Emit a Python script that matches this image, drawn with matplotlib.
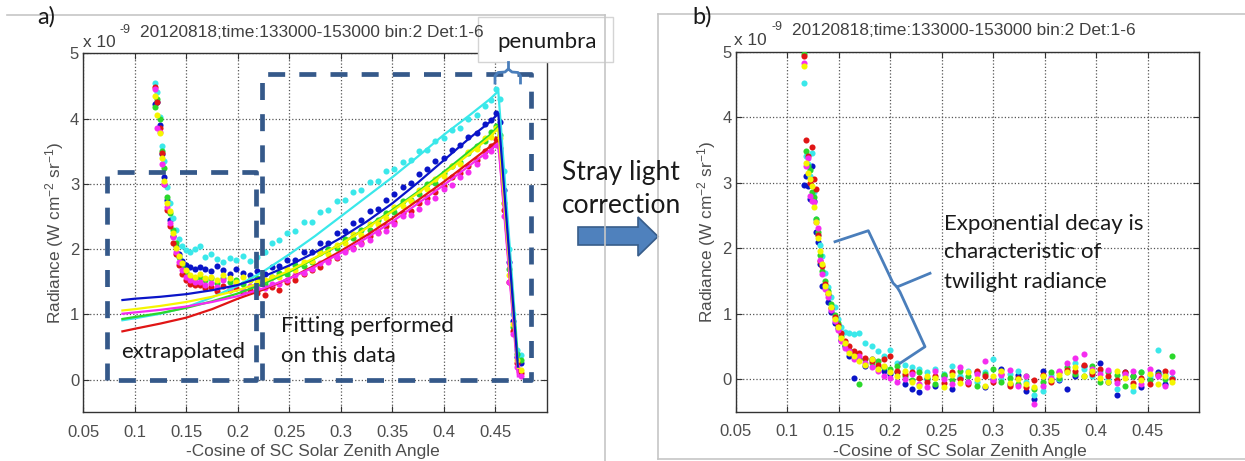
import matplotlib
matplotlib.use('Agg')
import matplotlib.pyplot as plt
from matplotlib.transforms import Affine2D
from matplotlib.patches import Polygon, Rectangle
from matplotlib.lines import Line2D

plt.rcParams['font.family'] = 'Liberation Sans'
plt.rcParams['mathtext.default'] = 'regular'

# ---------------- data ----------------
xticks = [0.05, 0.1, 0.15, 0.2, 0.25, 0.3, 0.35, 0.4, 0.45]
xtick_labels = ['0.05', '0.1', '0.15', '0.2', '0.25', '0.3', '0.35', '0.4', '0.45']
yticks = [0, 1, 2, 3, 4, 5]
title = '20120818;time:133000-153000 bin:2 Det:1-6'

series = ['blue', 'cyan', 'green', 'red', 'magenta', 'yellow']
colors = {'blue': '#0a14c8', 'cyan': '#3ae8ea', 'green': '#2bd82b',
          'red': '#e01515', 'magenta': '#f52cf0', 'yellow': '#f5f500'}

# panel a: measured radiance before correction
xa = [0.120, 0.122, 0.124, 0.126, 0.128, 0.131, 0.134, 0.137, 0.140, 0.143,
      0.146, 0.150, 0.154, 0.158, 0.163, 0.168, 0.174, 0.180, 0.186, 0.192,
      0.198, 0.205, 0.212, 0.219, 0.226, 0.233, 0.240, 0.248, 0.256, 0.264,
      0.272, 0.280, 0.288, 0.296, 0.304, 0.312, 0.320, 0.328, 0.336, 0.344,
      0.352, 0.360, 0.368, 0.376, 0.384, 0.392, 0.400, 0.408, 0.416, 0.424,
      0.432, 0.440, 0.446, 0.451, 0.455, 0.459, 0.463, 0.467, 0.471, 0.475]

ya = {
    'cyan': [4.55, 4.40, 4.02, 3.58, 3.35, 2.95, 2.70, 2.48, 2.30, 2.15,
             2.05, 1.98, 1.95, 2.00, 2.05, 1.88, 1.92, 1.85, 1.80, 1.86,
             1.83, 1.90, 1.82, 1.88, 1.95, 2.10, 2.14, 2.24, 2.28, 2.42,
             2.42, 2.57, 2.60, 2.74, 2.76, 2.88, 2.90, 3.03, 3.05, 3.19,
             3.22, 3.34, 3.37, 3.50, 3.52, 3.66, 3.70, 3.83, 3.86, 3.99,
             4.06, 4.20, 4.28, 4.45, 4.30, 3.20, 2.00, 1.00, 0.45, 0.38],
    'blue': [4.22, 4.25, 3.90, 3.45, 3.10, 2.75, 2.45, 2.20, 2.05, 1.92,
             1.82, 1.75, 1.72, 1.70, 1.72, 1.70, 1.66, 1.74, 1.68, 1.62,
             1.70, 1.64, 1.60, 1.66, 1.62, 1.72, 1.74, 1.83, 1.84, 1.95,
             1.96, 2.10, 2.10, 2.25, 2.28, 2.40, 2.44, 2.58, 2.62, 2.75,
             2.84, 2.95, 3.02, 3.15, 3.22, 3.35, 3.40, 3.52, 3.60, 3.72,
             3.78, 3.92, 3.98, 4.08, 3.95, 2.90, 1.80, 0.90, 0.35, 0.25],
    'green': [4.18, 4.30, 4.00, 3.50, 3.25, 2.80, 2.55, 2.30, 2.10, 1.88,
              1.75, 1.65, 1.58, 1.55, 1.58, 1.52, 1.55, 1.48, 1.56, 1.50,
              1.53, 1.47, 1.52, 1.55, 1.46, 1.58, 1.63, 1.62, 1.75, 1.74,
              1.80, 1.95, 2.00, 2.02, 2.16, 2.17, 2.30, 2.29, 2.45, 2.55,
              2.57, 2.73, 2.75, 2.84, 3.00, 3.02, 3.16, 3.27, 3.34, 3.48,
              3.58, 3.66, 3.80, 3.88, 3.75, 2.70, 1.70, 0.80, 0.40, 0.30],
    'red': [4.48, 4.25, 3.85, 3.48, 3.00, 2.60, 2.35, 2.10, 1.92, 1.75,
            1.62, 1.52, 1.47, 1.45, 1.45, 1.40, 1.42, 1.36, 1.44, 1.38,
            1.40, 1.35, 1.37, 1.33, 1.30, 1.42, 1.38, 1.50, 1.52, 1.62,
            1.68, 1.72, 1.84, 1.86, 1.98, 2.02, 2.10, 2.20, 2.26, 2.36,
            2.42, 2.55, 2.58, 2.70, 2.78, 2.88, 2.96, 3.10, 3.16, 3.28,
            3.36, 3.50, 3.58, 3.68, 3.55, 2.60, 1.50, 0.75, 0.25, 0.10],
    'magenta': [4.45, 3.85, 3.80, 3.30, 3.00, 2.65, 2.40, 2.18, 1.95, 1.80,
                1.68, 1.58, 1.52, 1.50, 1.50, 1.45, 1.48, 1.42, 1.52, 1.40,
                1.46, 1.38, 1.44, 1.40, 1.40, 1.46, 1.47, 1.52, 1.60, 1.63,
                1.70, 1.78, 1.80, 1.88, 1.95, 2.00, 2.08, 2.14, 2.24, 2.28,
                2.38, 2.50, 2.52, 2.62, 2.72, 2.78, 2.92, 2.98, 3.10, 3.18,
                3.30, 3.42, 3.50, 3.60, 3.50, 2.50, 1.50, 0.70, 0.20, 0.05],
    'yellow': [4.35, 4.05, 3.78, 3.40, 3.05, 2.70, 2.58, 2.25, 2.02, 1.90,
               1.78, 1.68, 1.60, 1.57, 1.62, 1.56, 1.58, 1.52, 1.60, 1.55,
               1.50, 1.57, 1.53, 1.49, 1.53, 1.58, 1.57, 1.69, 1.68, 1.80,
               1.82, 1.94, 1.93, 2.07, 2.09, 2.23, 2.22, 2.38, 2.39, 2.47,
               2.64, 2.66, 2.74, 2.90, 2.92, 3.08, 3.12, 3.28, 3.31, 3.49,
               3.53, 3.70, 3.72, 3.85, 3.70, 2.70, 1.60, 0.85, 0.30, 0.15],
}

# panel a: fitted / extrapolated curves
xfit = [0.088, 0.10, 0.125, 0.15, 0.175, 0.20, 0.225, 0.25, 0.275, 0.30,
        0.325, 0.35, 0.375, 0.40, 0.425, 0.445, 0.453, 0.472]
yfit = {
    'cyan': [0.91, 0.94, 1.01, 1.11, 1.26, 1.44, 1.66, 1.92, 2.20, 2.50,
             2.80, 3.10, 3.42, 3.75, 4.05, 4.30, 4.42, 0.35],
    'green': [0.93, 0.96, 1.02, 1.10, 1.20, 1.32, 1.47, 1.65, 1.86, 2.08,
              2.33, 2.60, 2.88, 3.18, 3.50, 3.75, 3.88, 0.30],
    'red': [0.74, 0.78, 0.86, 0.95, 1.08, 1.24, 1.38, 1.55, 1.75, 1.97,
            2.21, 2.47, 2.75, 3.03, 3.33, 3.57, 3.67, 0.12],
    'magenta': [1.01, 1.03, 1.07, 1.12, 1.19, 1.28, 1.40, 1.55, 1.73, 1.94,
                2.17, 2.42, 2.70, 2.98, 3.28, 3.52, 3.62, 0.05],
    'yellow': [1.06, 1.08, 1.13, 1.19, 1.27, 1.37, 1.50, 1.67, 1.87, 2.08,
               2.32, 2.58, 2.86, 3.15, 3.46, 3.72, 3.85, 0.18],
    'blue': [1.22, 1.24, 1.27, 1.31, 1.37, 1.45, 1.58, 1.75, 1.95, 2.17,
             2.42, 2.70, 3.02, 3.36, 3.70, 3.95, 4.08, 0.20],
}

# panel b: radiance after stray light correction
xb = [0.116, 0.118, 0.120, 0.122, 0.124, 0.126, 0.128, 0.130, 0.132, 0.134,
      0.137, 0.140, 0.143, 0.146, 0.149, 0.152, 0.156, 0.160, 0.165, 0.170,
      0.176, 0.182, 0.188, 0.194, 0.200, 0.207, 0.214, 0.221, 0.228, 0.236,
      0.244, 0.252, 0.260, 0.268, 0.276, 0.284, 0.292, 0.300, 0.308, 0.316,
      0.324, 0.332, 0.340, 0.348, 0.356, 0.364, 0.372, 0.380, 0.388, 0.396,
      0.404, 0.412, 0.420, 0.428, 0.436, 0.444, 0.452, 0.460, 0.467, 0.474]

yb = {
    'blue': [2.97, 3.10, 2.95, 2.75, 3.25, 2.72, 2.25, 2.10, 1.75, 1.42,
             1.40, 1.18, 1.02, 0.85, 0.78, 0.60, 0.50, 0.35, 0.02, 0.30,
             0.20, 0.30, 0.18, 0.12, 0.08, 0.10, -0.08, -0.15, -0.20, 0.00,
             -0.10, 0.05, -0.15, 0.02, -0.05, 0.10, -0.12, 0.00, 0.15, -0.08,
             0.06, -0.18, -0.30, 0.12, 0.00, -0.02, -0.15, 0.05, 0.20, 0.10,
             0.25, -0.05, -0.25, 0.10, 0.05, -0.12, 0.00, 0.10, -0.08, 0.02],
    'cyan': [4.52, 3.40, 3.28, 3.10, 3.45, 2.85, 2.45, 2.20, 2.05, 1.88,
             1.62, 1.40, 1.25, 1.10, 0.92, 0.80, 0.72, 0.70, 0.68, 0.70,
             0.55, 0.50, 0.42, 0.35, 0.45, 0.25, 0.22, 0.18, 0.15, 0.10,
             0.15, 0.08, 0.20, 0.05, 0.12, -0.04, 0.10, 0.30, 0.00, 0.08,
             0.12, -0.05, -0.25, -0.18, 0.06, 0.00, 0.10, 0.25, 0.15, 0.05,
             0.12, 0.00, -0.15, 0.06, -0.18, 0.10, 0.05, 0.45, 0.08, 0.02],
    'green': [4.97, 3.48, 3.25, 3.20, 2.85, 2.78, 2.45, 2.25, 1.90, 1.65,
              1.50, 1.35, 1.15, 0.98, 0.85, 0.65, 0.52, 0.45, 0.38, -0.08,
              0.30, 0.25, 0.28, 0.18, 0.15, 0.20, 0.05, -0.02, 0.10, 0.02,
              -0.08, 0.06, -0.02, 0.12, 0.04, -0.10, 0.08, 0.15, -0.04, 0.02,
              -0.08, 0.04, -0.15, -0.04, 0.10, 0.02, 0.18, 0.08, 0.04, 0.20,
              -0.04, 0.10, 0.06, -0.10, 0.04, 0.10, -0.02, 0.08, 0.00, 0.35],
    'red': [4.93, 3.65, 3.40, 3.00, 3.55, 3.05, 2.90, 2.20, 1.80, 1.72,
            1.45, 1.30, 1.08, 0.95, 0.82, 0.70, 0.58, 0.50, 0.42, 0.40,
            0.32, 0.28, 0.22, 0.30, 0.35, 0.12, 0.08, 0.10, 0.02, -0.05,
            0.05, -0.06, 0.10, 0.00, -0.08, 0.12, 0.04, -0.05, 0.08, -0.10,
            0.02, -0.12, -0.02, 0.06, -0.04, 0.10, 0.14, 0.12, 0.22, 0.08,
            0.15, 0.05, -0.02, 0.10, -0.06, 0.02, -0.08, 0.06, 0.12, 0.00],
    'magenta': [4.82, 3.25, 3.38, 2.80, 2.72, 2.70, 2.40, 2.30, 1.82, 1.60,
                1.38, 1.25, 1.05, 0.88, 0.75, 0.58, 0.48, 0.42, 0.30, 0.35,
                0.25, 0.18, 0.12, 0.05, 0.02, -0.05, 0.00, 0.08, -0.08, -0.12,
                0.12, 0.00, -0.08, 0.18, -0.05, 0.08, 0.28, -0.02, 0.06, 0.14,
                -0.10, 0.05, -0.38, -0.10, 0.02, 0.12, 0.25, 0.32, 0.38, 0.15,
                0.08, 0.14, -0.06, 0.08, 0.12, -0.08, 0.15, 0.04, -0.10, 0.10],
    'yellow': [4.78, 3.30, 3.15, 3.05, 2.95, 2.62, 2.40, 2.15, 1.95, 1.75,
               1.42, 1.32, 1.10, 0.92, 0.80, 0.62, 0.55, 0.40, 0.35, 0.28,
               0.22, 0.30, 0.15, 0.20, 0.10, 0.05, 0.12, -0.05, -0.10, 0.05,
               0.02, -0.12, 0.06, -0.06, 0.10, 0.00, -0.10, 0.05, 0.12, -0.06,
               0.00, -0.08, -0.12, 0.04, -0.02, 0.06, 0.10, 0.18, 0.05, 0.12,
               0.02, -0.04, 0.12, 0.02, -0.10, -0.02, 0.08, -0.08, 0.05, -0.05],
}

# ---------------- figure ----------------
W, H = 1245, 461
fig = plt.figure(figsize=(W / 100, H / 100), dpi=100)
# transform for annotation shapes given in image pixels (origin top-left)
px = Affine2D().scale(1 / W, -1 / H).translate(0, 1) + fig.transFigure

ax1 = fig.add_axes([83.3 / W, (H - 412.3) / H, 463.4 / W, 359 / H])
ax2 = fig.add_axes([735.7 / W, (H - 411.7) / H, 463.3 / W, 360 / H])

tick_col = '#4d4d4d'
for ax in (ax1, ax2):
    ax.set_xlim(0.05, 0.5)
    ax.set_ylim(-0.5, 5)
    ax.set_xticks(xticks)
    ax.set_xticklabels(xtick_labels)
    ax.set_yticks(yticks)
    ax.tick_params(direction='in', length=4, width=0.8, top=True, right=True,
                   labelsize=12, labelcolor=tick_col, color='#333333')
    ax.tick_params(axis='x', pad=9)
    ax.tick_params(axis='y', pad=3)
    ax.grid(True, linestyle=':', color='#555555', linewidth=0.9)
    ax.set_axisbelow(True)
    for s in ax.spines.values():
        s.set_color('#333333')
        s.set_linewidth(1.0)
    ax.set_xlabel('-Cosine of SC Solar Zenith Angle', fontsize=12.4, color=tick_col)
    ax.set_ylabel('Radiance (W cm$^{-2}$ sr$^{-1}$)', fontsize=12.4, color=tick_col)
    ax.xaxis.label.set_va('center')
    ax.yaxis.label.set_va('center')

ax1.xaxis.set_label_coords(0.495, -0.11)
ax1.yaxis.set_label_coords(-0.061, 0.5)
ax2.xaxis.set_label_coords(0.483, -0.111)
ax2.yaxis.set_label_coords(-0.062, 0.5)

# panel a data and fits
for name in series:
    ax1.plot(xa, ya[name], 'o', ms=4.4, mew=0, color=colors[name], zorder=3)
for name in ['cyan', 'green', 'red', 'magenta', 'yellow', 'blue']:
    ax1.plot(xfit, yfit[name], '-', lw=1.6, color=colors[name], zorder=4)

# panel b data
for name in series:
    ax2.plot(xb, yb[name], 'o', ms=4.4, mew=0, color=colors[name], zorder=3)

# dashed boxes on panel a
box_col = '#35598a'
dash = (0, (3.6, 3.0))
for x0, x1, y0, y1 in [(0.073, 0.2177, 0.0, 3.18), (0.2238, 0.4848, 0.0, 4.69)]:
    ax1.plot([x0, x0, x1, x1, x0], [y0, y1, y1, y0, y0], color=box_col, lw=3.4,
             linestyle=dash, clip_on=False, zorder=6)

# titles and exponent labels (MATLAB style)
fig.text(312.3, 36.7, title, transform=px, ha='center', va='baseline',
         fontsize=12.4, color='#404040')
fig.text(964, 35, title, transform=px, ha='center', va='baseline',
         fontsize=12.4, color='#404040')
for x0, yb0, xs, ys in [(83, 47.3, 120, 32.7), (734.3, 45, 771.7, 30)]:
    fig.text(x0, yb0, 'x 10', transform=px, ha='left', va='baseline',
             fontsize=12.4, color='#404040')
    fig.text(xs, ys, '-9', transform=px, ha='left', va='baseline',
             fontsize=9, color='#404040')

# slide frames
frame_col = '#c6c6c6'
for xs, ys in [([7, 605], [15, 15]), ([605, 605], [15, 461]),
               ([658, 658], [14, 459]), ([658, 1245], [14, 14]),
               ([658, 1245], [459, 459])]:
    fig.add_artist(Line2D(xs, ys, transform=px, color=frame_col, lw=1.2))
fig.add_artist(Rectangle((478, 17), 135, 45, transform=px, facecolor='white',
                         edgecolor='#d4d4d4', lw=1.0))

# slide annotations
ann = dict(family='Lato', color='#1a1a1a', transform=px, ha='left', va='baseline')
fig.text(37, 24, 'a)', fontsize=17, **ann)
fig.text(692, 23.3, 'b)', fontsize=17, **ann)
fig.text(497, 48.3, 'penumbra', fontsize=16, **ann)
fig.text(562, 180, 'Stray light', fontsize=19, **ann)
fig.text(562, 213.3, 'correction', fontsize=19, **ann)
fig.text(120.7, 358.3, 'extrapolated', fontsize=16, **ann)
fig.text(280.7, 332, 'Fitting performed', fontsize=16, **ann)
fig.text(280.7, 361.7, 'on this data', fontsize=16, **ann)
fig.text(944.3, 230, 'Exponential decay is', fontsize=16, **ann)
fig.text(944.3, 258.3, 'characteristic of', fontsize=16, **ann)
fig.text(944.3, 288.3, 'twilight radiance', fontsize=16, **ann)

# arrow between panels
fig.add_artist(Polygon([(578, 227), (638, 227), (638, 217), (658, 236.5),
                        (638, 256), (638, 245), (578, 245)], closed=True,
                       transform=px, facecolor='#4f81bd', edgecolor='#385d8a', lw=1.2))

# braces
brace_col = '#4a7ebb'
fig.add_artist(Line2D([508.3, 508.3], [62, 69], transform=px, color=brace_col, lw=2))
fig.add_artist(Line2D([495, 495, 498, 505, 508.3, 512, 518, 520.5, 520.5],
                      [83, 76, 72.5, 72, 69, 72, 72.5, 76, 83],
                      transform=px, color=brace_col, lw=2))
fig.add_artist(Line2D([835, 868.3, 893, 897, 930], [241.7, 230.7, 283, 287, 273.3],
                      transform=px, color=brace_col, lw=2))
fig.add_artist(Line2D([897, 900, 925, 900], [287, 292, 346.7, 363.3],
                      transform=px, color=brace_col, lw=2))

fig.savefig('out.png', dpi=100)
